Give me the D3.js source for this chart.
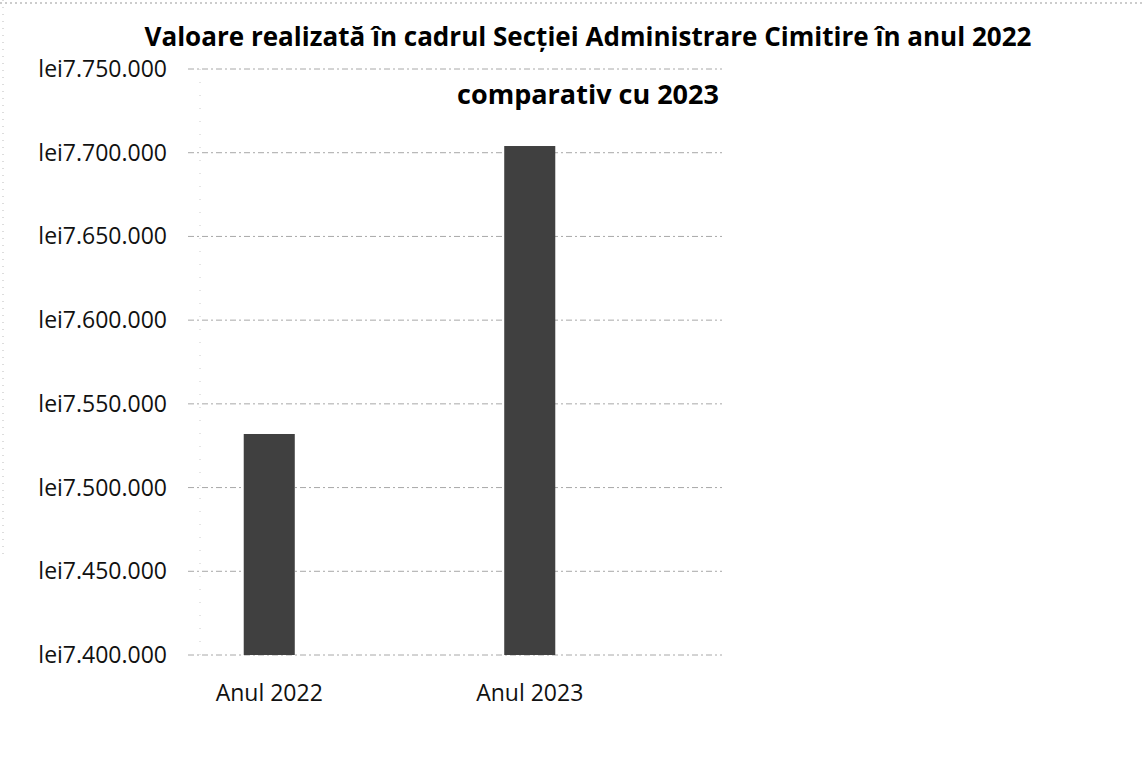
<!DOCTYPE html>
<html>
<head>
<meta charset="utf-8">
<script src="https://cdn.jsdelivr.net/npm/d3@7"></script>
<style>
  body { margin: 0; background: #fff; }
  text { font-family: "Open Sans", "DejaVu Sans", sans-serif; }
</style>
</head>
<body>
<div id="chart"></div>
<script>
// Data
const titleLines = ["Valoare realizată în cadrul Secției Administrare Cimitire în anul 2022", "comparativ cu 2023"]
const categories = ["Anul 2022", "Anul 2023"]
const values = [7532000, 7704000]
const yTicks = [7400000, 7450000, 7500000, 7550000, 7600000, 7650000, 7700000, 7750000]

const width = 1143, height = 778

const svg = d3.select("#chart").append("svg")
   .attr("width", width)
   .attr("height", height)

// Scan frame (faint dotted border top and left)
svg.append("line")
   .attr("x1", 0).attr("x2", width).attr("y1", 3).attr("y2", 3)
   .attr("stroke", "#999").attr("stroke-dasharray", "2,3").attr("stroke-width", 1)
svg.append("line")
   .attr("x1", 3).attr("x2", 3).attr("y1", 0).attr("y2", 560)
   .attr("stroke", "#bbb").attr("stroke-dasharray", "1,6").attr("stroke-width", 1)

const y = d3.scaleLinear().domain([7400000, 7750000]).range([655, 69])
const x = d3.scaleBand().domain(categories).range([139, 660]).paddingInner(0.804).paddingOuter(0.402)

const fmt = function(v) { return "lei" + d3.format(",")(v).replace(/,/g, ".") }

// Gridlines
svg.append("g").selectAll("line.grid").data(yTicks).enter().append("line")
   .attr("class", "grid")
   .attr("x1", 188).attr("x2", 722)
   .attr("y1", function(d) { return y(d) })
   .attr("y2", function(d) { return y(d) })
   .attr("stroke", "#a8a8a8")
   .attr("stroke-width", 1)
   .attr("stroke-dasharray", "6,3,2,3")

// faint vertical axis line (scan remnant)
svg.append("line")
   .attr("x1", 200).attr("x2", 200).attr("y1", y(7750000)).attr("y2", y(7400000))
   .attr("stroke", "#ccc").attr("stroke-dasharray", "1,12")

// Y tick labels
svg.append("g").selectAll("text.tick").data(yTicks).enter().append("text")
   .attr("class", "tick")
   .attr("x", 167)
   .attr("y", function(d) { return y(d) })
   .attr("dy", "0.35em")
   .attr("text-anchor", "end")
   .attr("font-size", 23)
   .attr("fill", "#111")
   .text(fmt)

// Bars
svg.append("g").selectAll("rect.bar").data(values).enter().append("rect")
   .attr("class", "bar")
   .attr("x", function(d, i) { return x(categories[i]) })
   .attr("width", x.bandwidth())
   .attr("y", function(d) { return y(d) })
   .attr("height", function(d) { return y(7400000) - y(d) })
   .attr("fill", "#404040")

// Category labels
svg.append("g").selectAll("text.cat").data(categories).enter().append("text")
   .attr("class", "cat")
   .attr("x", function(d) { return x(d) + x.bandwidth() / 2 })
   .attr("y", 701)
   .attr("text-anchor", "middle")
   .attr("font-size", 23)
   .attr("fill", "#111")
   .text(function(d) { return d })

// Title
const title = svg.append("g").selectAll("text.title").data(titleLines).enter().append("text")
   .attr("class", "title")
   .attr("x", 588)
   .attr("y", function(d, i) { return 46 + i * 58 })
   .attr("text-anchor", "middle")
   .attr("font-weight", "bold")
   .attr("font-size", 27)
   .attr("fill", "#000")
   .text(function(d) { return d })

// squeeze first line to the scanned width
title.each(function(d, i) {
   if(i == 0) {
      let w = this.getComputedTextLength()
      if(w > 887) d3.select(this).attr("textLength", 887).attr("lengthAdjust", "spacingAndGlyphs")
   }
})
</script>
</body>
</html>
